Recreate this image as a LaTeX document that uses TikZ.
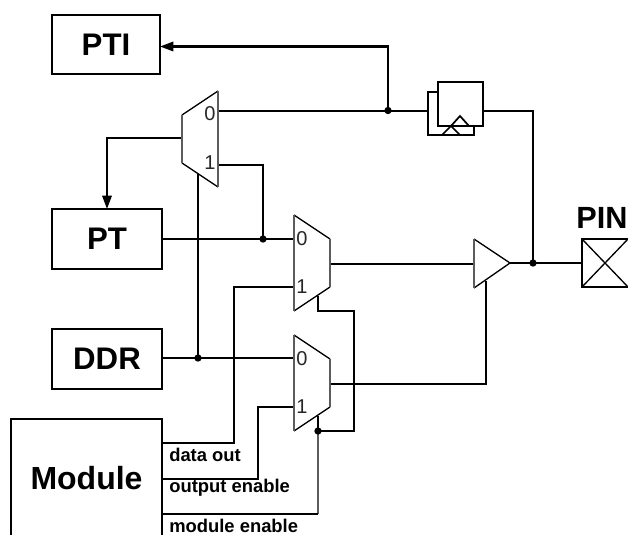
\documentclass[tikz,border=0pt]{standalone}
\usepackage{fontspec}
\setmainfont{Liberation Sans}
\usetikzlibrary{arrows.meta}
\definecolor{muxgray}{gray}{0.36}
\tikzset{
  x=0.75pt,y=-0.75pt,
  wire/.style={line width=1.65pt,black},
  thin wire/.style={line width=1.3pt,black},
  arrowed/.style={wire,-{Triangle[length=10pt,width=7pt]}},
  box/.style={draw,line width=1.65pt,inner sep=0pt,outer sep=0pt,anchor=north west,font=\bfseries\fontsize{23.4}{27}\selectfont},
  muxshape/.style={draw=black,line width=1pt},
  muxleft/.style={draw=muxgray,line width=1.2pt},
  jdot/.style={circle,fill=black,inner sep=0pt,minimum size=5.5pt},
  muxnum/.style={font=\fontsize{15}{18}\selectfont,text=black!85,inner sep=0pt},
  siglabel/.style={font=\bfseries\fontsize{13.8}{16}\selectfont,anchor=west,inner sep=0pt},
}
\begin{document}
\begin{tikzpicture}
\useasboundingbox (0,0) rectangle (628,535);
% Boxes
\node[box,minimum width=81pt,minimum height=44.25pt] (pti) at (52,15) {PTI};
\node[box,minimum width=82.5pt,minimum height=45pt] (pt) at (52,209) {PT};
\node[box,minimum width=82.5pt,minimum height=45pt] (ddr) at (52,329) {DDR};
\coordinate (modTL) at (11,419);
\coordinate (modTR) at (162,419);
\coordinate (modBL) at (11,535);
\coordinate (modBR) at (162,535);
\draw[wire] (modBL) -- (modTL) -- (modTR) -- (modBR);
\node[font=\bfseries\fontsize{24}{28}\selectfont,inner sep=0pt] (module) at (86.5,478) {Module};
% junctions
\coordinate (mzero) at (218,111);
\coordinate (mone) at (218,165);
\coordinate (min) at (182,138);
\coordinate (j1) at (388,110.5);
\coordinate (j2) at (263,239);
\coordinate (j3) at (198,358);
\coordinate (j4) at (318,431);
\coordinate (j5) at (533,263);
\coordinate (bufin) at (474,264);
\coordinate (bufout) at (510,263);
\coordinate (pinL) at (582,263);
\coordinate (ffL) at (428,111);
\coordinate (ffR) at (483,111);
% Wires
\draw[arrowed] (j1) |- (pti.east |- 0,46.5);
\draw[wire] (mzero) -- (ffL);
\draw[wire] (ffR) -| (j5);
\draw[wire] (j5) -- (pinL);
\draw[wire] (bufout) -- (j5);
\draw[wire] (min) -| (107,170);
\draw[arrowed] (107,170) -- (107,209);
\draw[wire] (mone) -| (j2);
\draw[wire] (198,174) -- (j3);
\draw[wire] (162,239) -- (294,239);
\draw[wire] (162,358) -- (294,358);
\draw[wire] (294,287) -| (234,443) -- (162,443);
\draw[wire] (294,407) -| (258,479) -- (162,479);
\draw[wire] (330,264) -- (bufin);
\draw[wire] (330,384) -| (486,281);
\draw[wire] (318,296) |- (354,311) |- (j4);
\draw[wire] (318,416) -- (j4);
\draw[wire,muxgray] (j4) -- (318,514);
\draw[wire] (318,514) -- (162,514);
% Muxes
\draw[muxshape] (182,115) -- (218,91) (218,187) -- (182,163);
\draw[muxleft] (182,115) -- (182,163) (218,91) -- (218,187);
\draw[muxshape] (294,215) -- (330,239) (330,287) -- (294,311);
\draw[muxleft] (294,215) -- (294,311) (330,239) -- (330,287);
\draw[muxshape] (294,335) -- (330,359) (330,407) -- (294,431);
\draw[muxleft] (294,335) -- (294,431) (330,359) -- (330,407);
\node[muxnum] (a0) at (210,114) {0};
\node[muxnum] (a1) at (210,163) {1};
\node[muxnum] (b0) at (302,239) {0};
\node[muxnum] (b1) at (302,287) {1};
\node[muxnum] (c0) at (302,359) {0};
\node[muxnum] (c1) at (302,407) {1};
% Flip-flop
\draw[thin wire] (438,92) -- (428,92) -- (428,135) -- (474,135) -- (474,126);
\draw[thin wire] (442,135) -- (451,126) -- (460,135);
\draw[thin wire] (438,82) rectangle (483,126);
\draw[thin wire] (451,126) -- (460,116) -- (469,126);
% Buffer
\draw[muxshape] (474,239) -- (510,263) -- (474,288);
\draw[muxleft] (474,239) -- (474,288);
% Pin
\draw[wire] (628,239) -- (582,239) -- (582,287) -- (628,287);
\draw[muxshape] (582,239) -- (628,287) (582,287) -- (628,239);
\node[font=\bfseries\fontsize{23}{27}\selectfont,inner sep=0pt] (pin) at (602,218) {PIN};
% Labels
\node[siglabel] (l1) at (169,455) {data out};
\node[siglabel] (l2) at (169,488) {output enable};
\node[siglabel] (l3) at (169,526) {module enable};
% dots
\foreach \n in {j1,j2,j3,j4,j5} \node[jdot] at (\n) {};
\end{tikzpicture}
\end{document}
